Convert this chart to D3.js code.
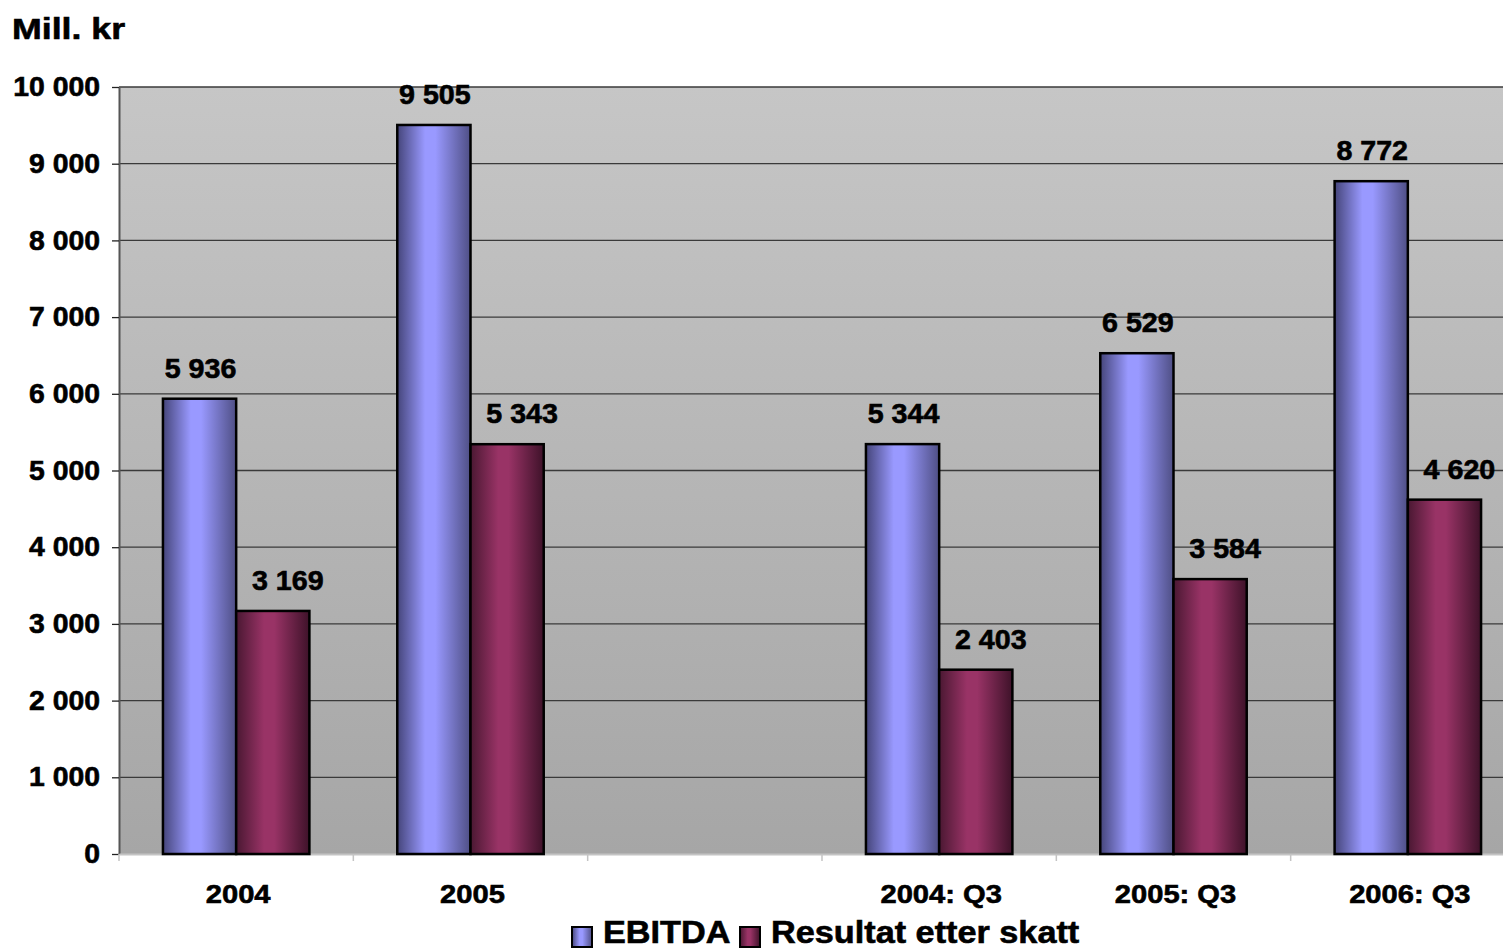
<!DOCTYPE html>
<html>
<head>
<meta charset="utf-8">
<script src="https://cdn.jsdelivr.net/npm/d3@7"></script>
<style>
  body { margin: 0; background: #fff; }
  svg { display: block; font-family: "Liberation Sans", Arial, sans-serif; font-weight: bold; }
  svg text { stroke: #000; stroke-width: 0.6px; }
</style>
</head>
<body>
<svg id="chart" width="1503" height="950"></svg>
<script>
// chart values
const categories = ["2004", "2005", "", "2004: Q3", "2005: Q3", "2006: Q3"];
const seriesNames = ["EBITDA", "Resultat etter skatt"];
const ebitda = [5936, 9505, null, 5344, 6529, 8772];
const resultat = [3169, 5343, null, 2403, 3584, 4620];
const yTicks = [0, 1000, 2000, 3000, 4000, 5000, 6000, 7000, 8000, 9000, 10000];

const width = 1503, height = 950;
const margin = {top: 87, right: -22, bottom: 96, left: 119};

const svg = d3.select("#chart");
const defs = svg.append("defs");

// the original text is a bit wider than Liberation Sans, stretch it a little
function stretch(sel, k) {
  sel.each(function() {
    const w = this.getComputedTextLength();
    d3.select(this).attr("textLength", w * k).attr("lengthAdjust", "spacingAndGlyphs");
  });
}

// background gradient of the plot area
const bg = defs.append("linearGradient").attr("id", "bg")
    .attr("x1", 0).attr("y1", 0).attr("x2", 0).attr("y2", 1);
bg.append("stop").attr("offset", "0%").attr("stop-color", "#c6c6c6");
bg.append("stop").attr("offset", "100%").attr("stop-color", "#a6a6a6");

// bar gradients: dark edges, light middle
const grads = [
  {id: "g0", dark: "#45457a", mid: "#9999ff", right: "#4f4f85"},
  {id: "g1", dark: "#4a1832", mid: "#993366", right: "#3e1229"}
];
grads.forEach(g => {
  const lg = defs.append("linearGradient").attr("id", g.id)
      .attr("x1", 0).attr("y1", 0).attr("x2", 1).attr("y2", 0);
  lg.append("stop").attr("offset", "0%").attr("stop-color", g.dark);
  lg.append("stop").attr("offset", "38%").attr("stop-color", g.mid);
  lg.append("stop").attr("offset", "52%").attr("stop-color", g.mid);
  lg.append("stop").attr("offset", "100%").attr("stop-color", g.right);
});

const x0 = d3.scaleBand()
    .domain(categories.map((c, i) => i))
    .range([margin.left, width - margin.right])
    .paddingInner(0).paddingOuter(0);

const x1 = d3.scaleBand()
    .domain(seriesNames)
    .range([0, x0.bandwidth()])
    .paddingInner(0).paddingOuter(0.6);

const y = d3.scaleLinear()
    .domain([0, 10000])
    .range([height - margin.bottom, margin.top]);

const fmt = v => d3.format(",")(v).replace(/,/g, " ");

// plot background
svg.append("rect")
    .attr("x", margin.left).attr("y", margin.top)
    .attr("width", width - margin.right - margin.left)
    .attr("height", y(0) - margin.top)
    .attr("fill", "url(#bg)");

// gridlines
svg.append("g")
  .selectAll("line")
  .data(yTicks.filter(d => d > 0))
  .join("line")
    .attr("x1", margin.left).attr("x2", width - margin.right)
    .attr("y1", d => y(d)).attr("y2", d => y(d))
    .attr("stroke", "#3a3a3a").attr("stroke-width", 1.3);

// y axis
const yAxis = svg.append("g")
    .attr("transform", `translate(${margin.left},0)`)
    .call(d3.axisLeft(y).tickValues(yTicks).tickFormat(fmt).tickSizeInner(7).tickSizeOuter(0).tickPadding(12));
yAxis.select(".domain").attr("stroke", "#555").attr("stroke-width", 2);
yAxis.selectAll(".tick line").attr("stroke", "#222").attr("stroke-width", 1.3);
yAxis.selectAll(".tick text")
    .attr("font-size", 27).attr("font-weight", "bold").attr("fill", "#000")
    .attr("font-family", "Liberation Sans, Arial, sans-serif")
    .call(stretch, 1.05);

// x axis
const xAxis = svg.append("g")
    .attr("transform", `translate(0,${y(0)})`)
    .call(d3.axisBottom(x0).tickFormat(i => categories[i]).tickSize(0).tickPadding(31));
xAxis.select(".domain").attr("stroke", "#c4c4c4").attr("stroke-width", 2);
xAxis.selectAll(".tick text")
    .attr("font-size", 26).attr("font-weight", "bold").attr("fill", "#000")
    .attr("font-family", "Liberation Sans, Arial, sans-serif")
    .attr("dx", 2)
    .call(stretch, 1.12);
// category separators below the axis
svg.append("g")
  .selectAll("line")
  .data(d3.range(categories.length))
  .join("line")
    .attr("x1", i => x0(i)).attr("x2", i => x0(i))
    .attr("y1", y(0)).attr("y2", y(0) + 7)
    .attr("stroke", "#c4c4c4").attr("stroke-width", 1.5);

// bars
const rows = categories.map((c, i) => ({i, vals: [ebitda[i], resultat[i]]}));
const groups = svg.append("g")
  .selectAll("g")
  .data(rows.filter(r => r.vals[0] != null))
  .join("g")
    .attr("transform", d => `translate(${x0(d.i)},0)`);

const bars = groups.selectAll("g")
  .data(d => d.vals.map((v, k) => ({v, k, name: seriesNames[k]})))
  .join("g");

bars.append("rect")
    .attr("x", d => x1(d.name))
    .attr("y", d => y(d.v))
    .attr("width", x1.bandwidth())
    .attr("height", d => y(0) - y(d.v))
    .attr("fill", d => `url(#g${d.k})`)
    .attr("stroke", "#000").attr("stroke-width", 2.5);

// value labels, the second series sits a bit to the right like in the original
bars.append("text")
    .attr("x", d => x1(d.name) + x1.bandwidth() / 2 + (d.k ? 15 : 1))
    .attr("y", d => y(d.v) - 21)
    .attr("text-anchor", "middle")
    .attr("font-size", 27)
    .text(d => fmt(d.v))
    .call(stretch, 1.06);

// title
svg.append("text")
    .attr("x", 12).attr("y", 39)
    .attr("font-size", 30)
    .text("Mill. kr")
    .call(stretch, 1.19);

// legend
const legend = svg.append("g").attr("transform", "translate(572,927)");
const legItems = [{name: seriesNames[0], k: 0, x: 0}, {name: seriesNames[1], k: 1, x: 168}];
const li = legend.selectAll("g").data(legItems).join("g")
    .attr("transform", d => `translate(${d.x},0)`);
li.append("rect")
    .attr("width", 20).attr("height", 20)
    .attr("fill", d => `url(#g${d.k})`)
    .attr("stroke", "#000").attr("stroke-width", 2);
li.append("text")
    .attr("x", 31).attr("y", 16)
    .attr("font-size", 32)
    .text(d => d.name)
    .call(stretch, 1.07);
</script>
</body>
</html>
